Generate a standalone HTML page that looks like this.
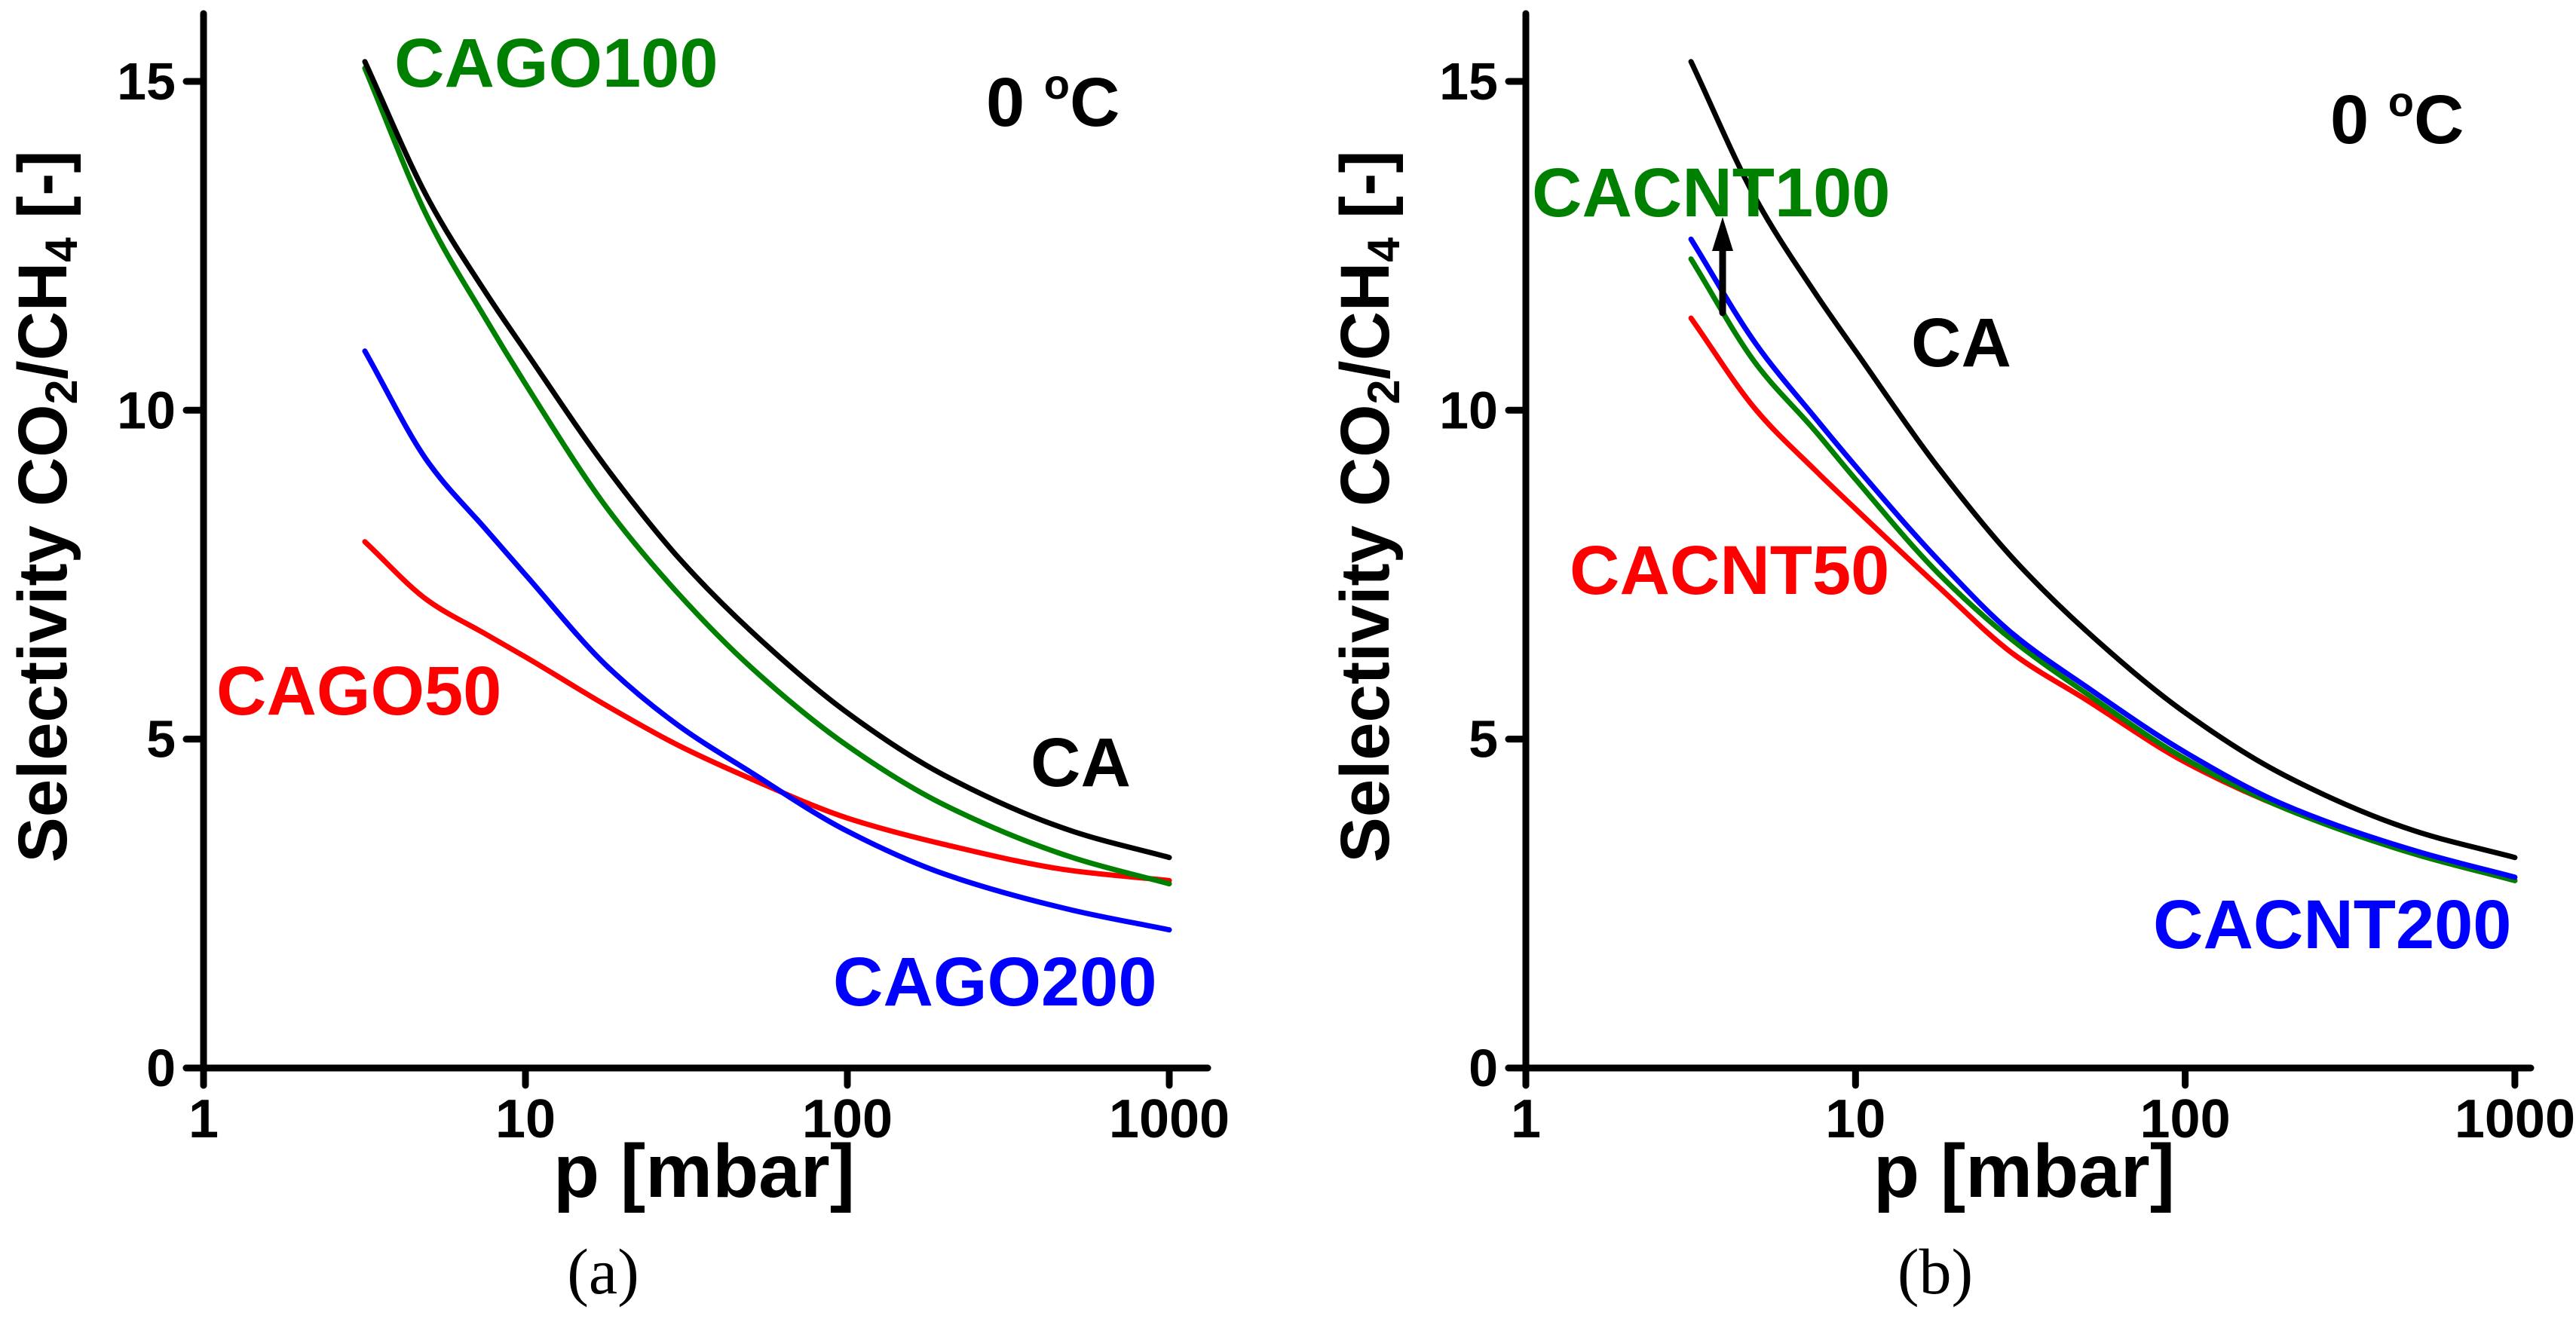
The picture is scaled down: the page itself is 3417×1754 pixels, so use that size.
<!DOCTYPE html>
<html><head><meta charset="utf-8"><style>
html,body{margin:0;padding:0;background:#fff}
svg{display:block}
text{font-family:"Liberation Sans",Arial,sans-serif;font-weight:bold}
</style></head><body>
<svg id="chart" width="3417" height="1754" viewBox="0 0 3417 1754" xmlns="http://www.w3.org/2000/svg">
<g id="panelA"></g>
<g id="panelB"></g>
</svg>
<script>
const pressures = [3.17, 5, 7.5, 10, 18, 30, 50, 100, 200, 500, 1000];
const caValues = [15.3, 13.2, 11.8, 10.9, 9.1, 7.75, 6.65, 5.4, 4.45, 3.6, 3.2];
const cago100Values = [15.2, 12.9, 11.4, 10.4, 8.5, 7.2, 6.1, 4.9, 4.0, 3.2, 2.8];
const cago200Values = [10.9, 9.2, 8.2, 7.5, 6.1, 5.2, 4.5, 3.6, 2.95, 2.4, 2.1];
const cago50Values = [8.0, 7.1, 6.6, 6.25, 5.5, 4.9, 4.4, 3.8, 3.4, 3.0, 2.85];
const cacnt200Values = [12.6, 11.0, 9.9, 9.15, 7.7, 6.6, 5.8, 4.8, 4.0, 3.3, 2.9];
const cacnt100Values = [12.3, 10.7, 9.7, 8.95, 7.5, 6.5, 5.7, 4.7, 3.95, 3.25, 2.85];
const cacnt50Values = [11.4, 10.0, 9.1, 8.5, 7.3, 6.3, 5.6, 4.65, 3.95, 3.25, 2.85];
const xTickValues = [1, 10, 100, 1000];
const xTickLabels = ["1", "10", "100", "1000"];
const yTickValues = [0, 5, 10, 15];
const yTickLabels = ["0", "5", "10", "15"];

const NS = "http://www.w3.org/2000/svg";
function mk(parent, tag, attrs, txt) {
  const el = document.createElementNS(NS, tag);
  for (const k in attrs) el.setAttribute(k, attrs[k]);
  if (txt !== undefined) el.textContent = txt;
  parent.appendChild(el);
  return el;
}
// monotone cubic (Fritsch-Carlson) path
function smoothPath(pts) {
  const n = pts.length, dx = [], s = [], m = [];
  for (let i = 0; i < n - 1; i++) { dx[i] = pts[i+1][0] - pts[i][0]; s[i] = (pts[i+1][1] - pts[i][1]) / dx[i]; }
  m[0] = s[0]; m[n-1] = s[n-2];
  for (let i = 1; i < n - 1; i++) {
    if (s[i-1] * s[i] <= 0) m[i] = 0;
    else { const w1 = 2*dx[i] + dx[i-1], w2 = dx[i] + 2*dx[i-1]; m[i] = (w1 + w2) / (w1 / s[i-1] + w2 / s[i]); }
  }
  let d = "M" + pts[0][0].toFixed(1) + "," + pts[0][1].toFixed(1);
  for (let i = 0; i < n - 1; i++) {
    const h = dx[i] / 3;
    d += " C" + (pts[i][0] + h).toFixed(1) + "," + (pts[i][1] + m[i]*h).toFixed(1) + " " +
         (pts[i+1][0] - h).toFixed(1) + "," + (pts[i+1][1] - m[i+1]*h).toFixed(1) + " " +
         pts[i+1][0].toFixed(1) + "," + pts[i+1][1].toFixed(1);
  }
  return d;
}

function drawPanel(g, cfg) {
  const xs = p => cfg.x0 + Math.log10(p) * cfg.dec;
  const ys = v => 1417 - v * 87.27;
  const ya = mk(g, "line", {x1: cfg.x0, y1: 18, x2: cfg.x0, y2: 1440, stroke: "#000", "stroke-width": 9, "stroke-linecap": "round"});
  
  
  const xa = mk(g, "line", {x1: cfg.x0 - 23, y1: 1417, x2: cfg.xEnd, y2: 1417, stroke: "#000", "stroke-width": 9, "stroke-linecap": "round"});
  
  
  xTickValues.forEach((v, i) => {
    const x = xs(v);
    const t = mk(g, "line", {x1: x, y1: 1417, x2: x, y2: 1440, stroke: "#000", "stroke-width": 9, "stroke-linecap": "round"});
    
    
    const l = mk(g, "text", {x: x, y: 1509, "font-size": 72, "text-anchor": "middle"}, xTickLabels[i]);
    
    
  });
  yTickValues.forEach((v, i) => {
    const y = ys(v);
    const t = mk(g, "line", {x1: cfg.x0 - 23, y1: y, x2: cfg.x0, y2: y, stroke: "#000", "stroke-width": 9, "stroke-linecap": "round"});
    
    
    const l = mk(g, "text", {x: cfg.x0 - 37, y: y + 24, "font-size": 70, "text-anchor": "end"}, yTickLabels[i]);
    
    
  });
  cfg.series.forEach(s => {
    const pts = pressures.map((p, i) => [xs(p), ys(s.vals[i])]);
    const path = mk(g, "path", {d: smoothPath(pts), fill: "none", stroke: s.color, "stroke-width": 7, "stroke-linejoin": "round", "stroke-linecap": "round"});
    
    
  });
  const xt = mk(g, "text", {x: cfg.xTitle, y: 1588, "font-size": 100, "text-anchor": "middle"}, "p [mbar]");
  
  
  const yt = mk(g, "text", {transform: "translate(" + (cfg.x0 - 182) + ",672) rotate(-90)", "font-size": 92, "text-anchor": "middle", textLength: 945, lengthAdjust: "spacingAndGlyphs"});
  
  
  yt.innerHTML = 'Selectivity CO<tspan font-size="60" dy="14">2</tspan><tspan dy="-14">/CH</tspan><tspan font-size="60" dy="14">4</tspan><tspan dy="-14"> [-]</tspan>';
  const temp = mk(g, "text", {x: cfg.tempX, y: cfg.tempY, "font-size": 92});
  
  
  temp.innerHTML = '0 <tspan font-size="56" dy="-36">o</tspan><tspan dy="36">C</tspan>';
  cfg.labels.forEach(l => {
    const t = mk(g, "text", {x: l.x, y: l.y, "font-size": 92, fill: l.color}, l.text);
    
    
  });
  const cap = mk(g, "text", {x: cfg.capX, y: 1716, "font-size": 86, "text-anchor": "middle", style: "font-family:'Liberation Serif',serif;font-weight:normal"}, cfg.cap);
  
  
}

drawPanel(document.getElementById("panelA"), {
  x0: 270, dec: 427, xEnd: 1602, xTitle: 934, tempX: 1308, tempY: 167, capX: 800, cap: "(a)",
  series: [
    {name: "line-cago50", color: "#ff0000", vals: cago50Values},
    {name: "line-cago200", color: "#0000ff", vals: cago200Values},
    {name: "line-cago100", color: "#008000", vals: cago100Values},
    {name: "line-ca", color: "#000000", vals: caValues}
  ],
  labels: [
    {name: "label-cago100", text: "CAGO100", x: 523, y: 115, color: "#008000"},
    {name: "label-cago50", text: "CAGO50", x: 287, y: 948, color: "#ff0000"},
    {name: "label-ca", text: "CA", x: 1367, y: 1043, color: "#000"},
    {name: "label-cago200", text: "CAGO200", x: 1105, y: 1334, color: "#0000ff"}
  ]
});
drawPanel(document.getElementById("panelB"), {
  x0: 2024, dec: 437.3, xEnd: 3357, xTitle: 2685, tempX: 3091, tempY: 190, capX: 2567, cap: "(b)",
  series: [
    {name: "line-cacnt50", color: "#ff0000", vals: cacnt50Values},
    {name: "line-cacnt100", color: "#008000", vals: cacnt100Values},
    {name: "line-cacnt200", color: "#0000ff", vals: cacnt200Values},
    {name: "line-ca", color: "#000000", vals: caValues}
  ],
  labels: [
    {name: "label-cacnt100", text: "CACNT100", x: 2032, y: 287, color: "#008000"},
    {name: "label-ca", text: "CA", x: 2535, y: 486, color: "#000"},
    {name: "label-cacnt50", text: "CACNT50", x: 2082, y: 788, color: "#ff0000"},
    {name: "label-cacnt200", text: "CACNT200", x: 2856, y: 1258, color: "#0000ff"}
  ]
});
const pb = document.getElementById("panelB");
const arr = mk(pb, "line", {x1: 2285, y1: 415, x2: 2285, y2: 320, stroke: "#000", "stroke-width": 9, "stroke-linecap": "round"});


const head = mk(pb, "polygon", {points: "2285,288 2271,333 2299,333", fill: "#000"});


</script>
</body></html>
